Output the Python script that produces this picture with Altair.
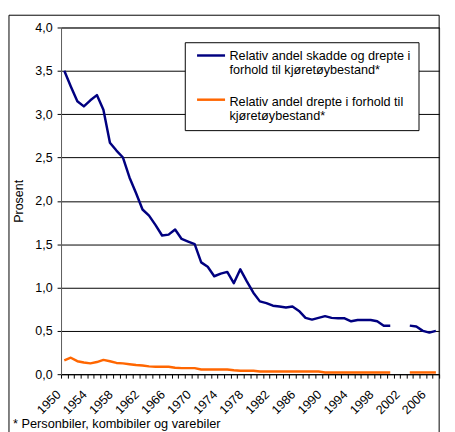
import altair as alt
import pandas as pd

years = list(range(1950, 2008))
series_names = [
    "Relativ andel skadde og drepte i forhold til kjøretøybestand*",
    "Relativ andel drepte i forhold til kjøretøybestand*",
]
legend_lines = [
    ["Relativ andel skadde og drepte i", "forhold til kjøretøybestand*"],
    ["Relativ andel drepte i forhold til", "kjøretøybestand*"],
]
series_colors = ["#000080", "#FF6600"]
injured_killed = [3.50, 3.32, 3.15, 3.09, 3.16, 3.22, 3.05, 2.67, 2.58, 2.50,
                  2.27, 2.09, 1.90, 1.83, 1.72, 1.60, 1.61, 1.67, 1.56, 1.53,
                  1.50, 1.29, 1.24, 1.13, 1.16, 1.18, 1.05, 1.21, 1.07, 0.94,
                  0.84, 0.82, 0.79, 0.78, 0.77, 0.78, 0.73, 0.65, 0.63, 0.65,
                  0.67, 0.65, 0.645, 0.645, 0.61, 0.625, 0.625, 0.625, 0.61, 0.56,
                  0.56, None, None, 0.56, 0.55, 0.50, 0.48, 0.50]
killed = [0.16, 0.19, 0.15, 0.135, 0.125, 0.14, 0.165, 0.15, 0.13, 0.125,
          0.115, 0.105, 0.10, 0.09, 0.085, 0.085, 0.085, 0.075, 0.07, 0.07,
          0.07, 0.055, 0.055, 0.055, 0.055, 0.055, 0.045, 0.04, 0.04, 0.04,
          0.03, 0.03, 0.03, 0.03, 0.03, 0.03, 0.03, 0.03, 0.03, 0.03,
          0.02, 0.02, 0.02, 0.02, 0.02, 0.02, 0.02, 0.02, 0.02, 0.02,
          0.02, None, None, 0.02, 0.02, 0.02, 0.02, 0.02]
y_ticks = [0, 0.5, 1.0, 1.5, 2.0, 2.5, 3.0, 3.5, 4.0]
footnote = "* Personbiler, kombibiler og varebiler"

rows = []
for name, vals in zip(series_names, [injured_killed, killed]):
    seg = 0
    for yr, v in zip(years, vals):
        if v is None:
            seg = 1
            continue
        rows.append({"year": yr, "value": v, "series": name, "seg": seg})
df = pd.DataFrame(rows)

bounds = [y - 0.5 for y in years] + [years[-1] + 0.5]
FONT = "Liberation Sans"
FS = 12.7
LFS = 12.9

one = alt.Data(values=[{}])

frame = alt.Chart(one).mark_rect(filled=False, stroke="black", strokeWidth=1).encode(
    x=alt.value(-53), x2=alt.value(385), y=alt.value(-12.5), y2=alt.value(440)
)

lines = alt.Chart(df).mark_line(strokeWidth=2.5, strokeJoin="round").encode(
    x=alt.X("year:Q",
            scale=alt.Scale(domain=[bounds[0], bounds[-1]], nice=False, zero=False),
            axis=alt.Axis(values=bounds,
                          labelExpr="((datum.value + 0.5 - 1950) % 4 == 0) ? '' + (datum.value + 0.5) : ''",
                          labelAngle=-45, labelAlign="right", labelBaseline="top",
                          labelOffset=-7, labelPadding=10, tickSize=4, tickColor="black",
                          domainColor="black", grid=False, title=None,
                          labelOverlap=False, labelFlush=False, labelBound=False)),
    y=alt.Y("value:Q",
            scale=alt.Scale(domain=[0, 4], nice=False),
            axis=alt.Axis(values=y_ticks,
                          labelExpr="replace(format(datum.value, '.1f'), '.', ',')",
                          title="Prosent", grid=True, gridColor="black", gridWidth=1,
                          tickSize=4, tickColor="black", domainColor="#606060",
                          labelPadding=5, titlePadding=10)),
    color=alt.Color("series:N", scale=alt.Scale(domain=series_names, range=series_colors), legend=None),
    detail="seg:N",
)

legend_box = alt.Chart(one).mark_rect(fill="white", stroke="black", strokeWidth=1).encode(
    x=alt.value(126.5), x2=alt.value(364.5), y=alt.value(15.5), y2=alt.value(105)
)

layers = [frame, lines, legend_box]
sym_y = [28.5, 73.5]
txt_y = [33, 80]
for i in range(2):
    layers.append(alt.Chart(one).mark_rule(color=series_colors[i], strokeWidth=2.5).encode(
        x=alt.value(138.5), x2=alt.value(167), y=alt.value(sym_y[i])))
    layers.append(alt.Chart(one).mark_text(align="left", baseline="alphabetic", font=FONT,
                                           fontSize=LFS, lineHeight=14.5, color="black").encode(
        x=alt.value(171.5), y=alt.value(txt_y[i]), text=alt.value(legend_lines[i])))

layers.append(alt.Chart(one).mark_text(align="left", baseline="alphabetic", font=FONT,
                                       fontSize=13, color="black").encode(
    x=alt.value(-49), y=alt.value(408), text=alt.value(footnote)))

chart = alt.layer(*layers).properties(
    width=385, height=353,
    autosize=alt.AutoSizeParams(type="none"),
    padding={"left": 54, "top": 16, "right": 8, "bottom": 55},
).configure_view(stroke="#808080", strokeWidth=1).configure_axis(
    labelFont=FONT, labelFontSize=FS, labelColor="black",
    titleFont=FONT, titleFontSize=FS, titleFontWeight="normal", titleColor="black",
)

chart.save("out.html", embed_options={"renderer": "svg", "actions": False})
